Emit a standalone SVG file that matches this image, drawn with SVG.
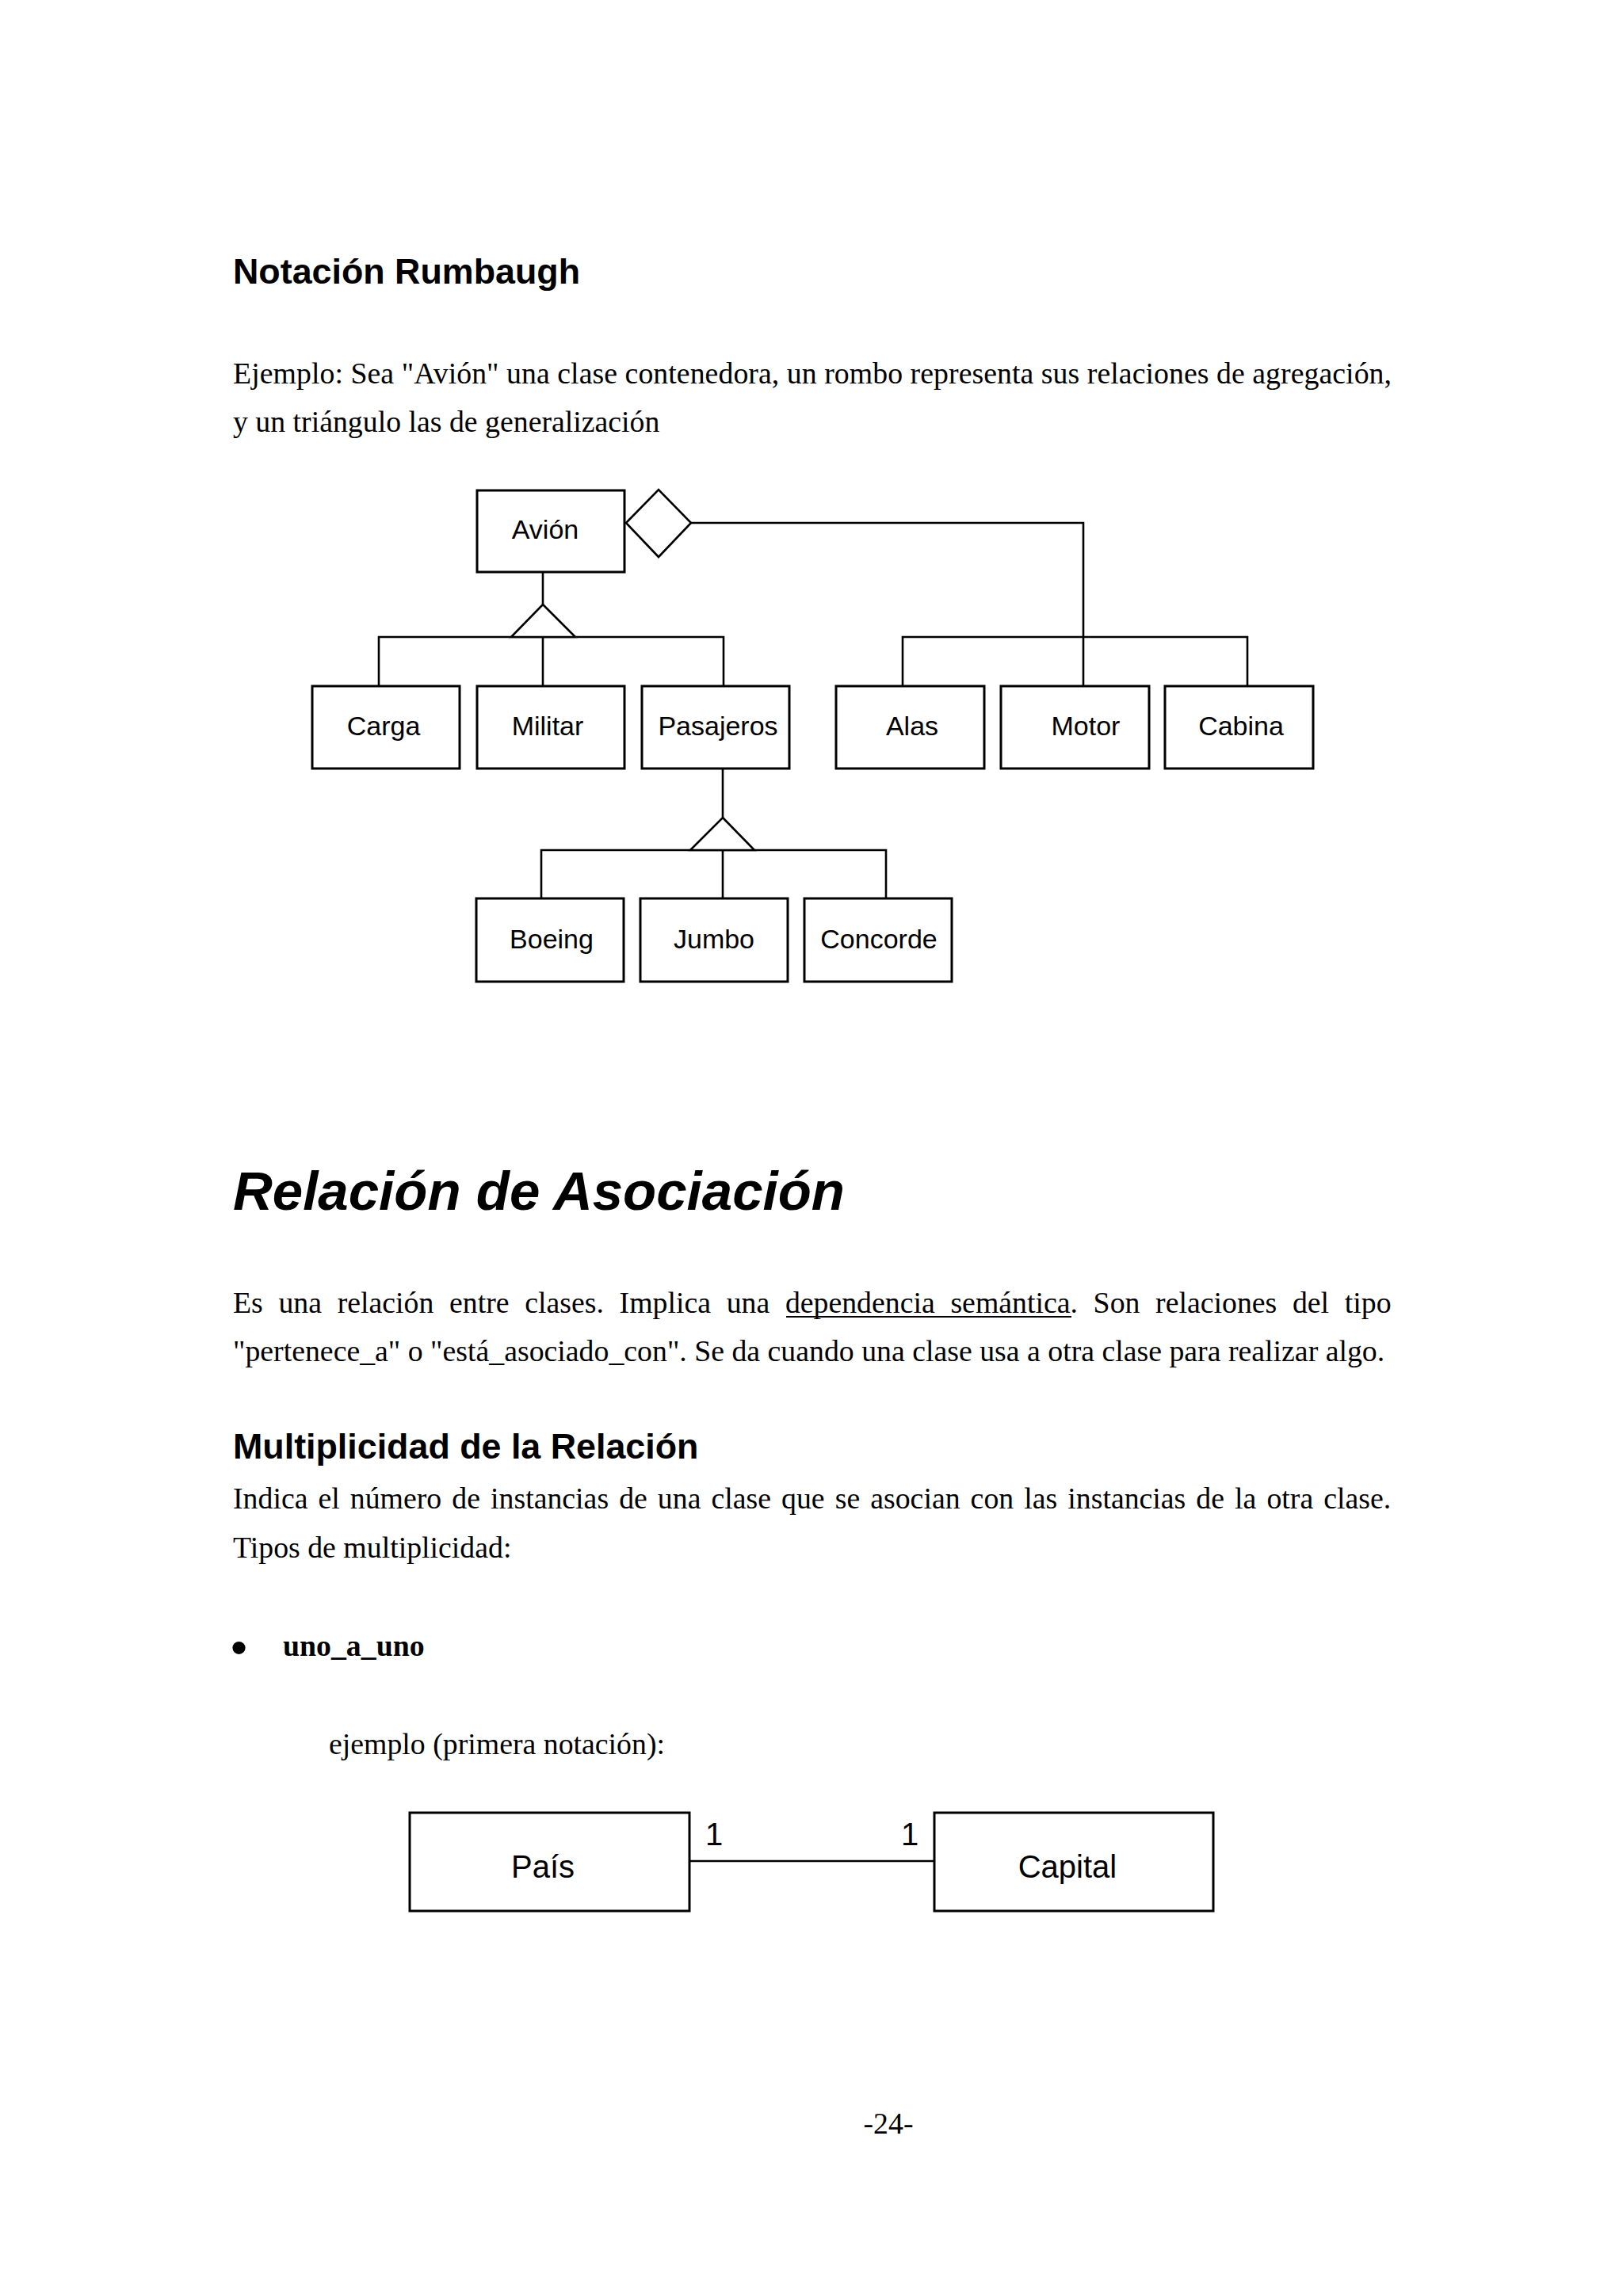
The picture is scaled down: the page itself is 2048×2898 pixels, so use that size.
<svg xmlns="http://www.w3.org/2000/svg" width="2048" height="2898" viewBox="0 0 2048 2898">
<style>
.bg{fill:#fff}
.box{fill:#fff;stroke:#000;stroke-width:3}
.ln{fill:none;stroke:#000;stroke-width:2.6}
.sym{fill:#fff;stroke:#000;stroke-width:2.6;stroke-linejoin:miter}
.lbl{font-family:"Liberation Sans",Arial,sans-serif;font-size:34px;fill:#000;text-anchor:middle}
.lbl2{font-family:"Liberation Sans",Arial,sans-serif;font-size:40px;fill:#000}
.h2{font-family:"Liberation Sans",Arial,sans-serif;font-size:44.8px;font-weight:bold;fill:#000}
.h1{font-family:"Liberation Sans",Arial,sans-serif;font-size:69px;font-weight:bold;font-style:italic;fill:#000}
.body{font-family:"Liberation Serif","Times New Roman",serif;font-size:37.8px;fill:#000}
</style>
<rect class="bg" x="0" y="0" width="2048" height="2898"/>

<text class="h2" x="294" y="358">Notación Rumbaugh</text>
<text class="body" x="294" y="484" textLength="1462" lengthAdjust="spacing">Ejemplo: Sea "Avión" una clase contenedora, un rombo representa sus relaciones de agregación,</text>
<text class="body" x="294" y="545">y un triángulo las de generalización</text>

<g id="connectors">
  <path class="ln" d="M685,722 V763"/>
  <path class="ln" d="M478,866 V804 H913 V866 M685,804 V866"/>
  <path class="ln" d="M872,660 H1367 V866"/>
  <path class="ln" d="M1139,866 V804 H1574 V866"/>
  <path class="ln" d="M912,970 V1032"/>
  <path class="ln" d="M683,1134 V1073 H1118 V1134 M912,1073 V1134"/>
  <polygon class="sym" points="685,763 726,804 645,804"/>
  <polygon class="sym" points="912,1032 952,1073 871,1073"/>
  <polygon class="sym" points="790,660 831,618 872,660 831,703"/>
  <path class="ln" d="M870,2349 H1179"/>
  <text class="lbl2" x="890" y="2329">1</text>
  <text class="lbl2" x="1137" y="2329">1</text>
</g>

<g id="avion"><rect class="box" x="602" y="619" width="186" height="103"/><text class="lbl" x="688" y="680">Avión</text></g>
<g id="carga"><rect class="box" x="394" y="866" width="186" height="104"/><text class="lbl" x="484" y="928">Carga</text></g>
<g id="militar"><rect class="box" x="602" y="866" width="186" height="104"/><text class="lbl" x="691" y="928">Militar</text></g>
<g id="pasajeros"><rect class="box" x="810" y="866" width="186" height="104"/><text class="lbl" x="906" y="928">Pasajeros</text></g>
<g id="alas"><rect class="box" x="1055" y="866" width="187" height="104"/><text class="lbl" x="1151" y="928">Alas</text></g>
<g id="motor"><rect class="box" x="1263" y="866" width="187" height="104"/><text class="lbl" x="1370" y="928">Motor</text></g>
<g id="cabina"><rect class="box" x="1470" y="866" width="187" height="104"/><text class="lbl" x="1566" y="928">Cabina</text></g>
<g id="boeing"><rect class="box" x="601" y="1134" width="186" height="105"/><text class="lbl" x="696" y="1197">Boeing</text></g>
<g id="jumbo"><rect class="box" x="808" y="1134" width="186" height="105"/><text class="lbl" x="901" y="1197">Jumbo</text></g>
<g id="concorde"><rect class="box" x="1015" y="1134" width="186" height="105"/><text class="lbl" x="1109" y="1197">Concorde</text></g>

<text class="h1" x="294" y="1527">Relación de Asociación</text>

<text class="body" x="294" y="1657" word-spacing="10.2">Es una relación entre clases. Implica una dependencia semántica. Son relaciones del tipo</text>
<path class="ln" d="M992,1662 H1352" style="stroke-width:2"/>
<text class="body" x="294" y="1718">"pertenece_a" o "está_asociado_con". Se da cuando una clase usa a otra clase para realizar algo.</text>

<text class="h2" x="294" y="1841">Multiplicidad de la Relación</text>
<text class="body" x="294" y="1904" word-spacing="3.6">Indica el número de instancias de una clase que se asocian con las instancias de la otra clase.</text>
<text class="body" x="294" y="1966">Tipos de multiplicidad:</text>

<text x="291" y="2100" font-family="Liberation Sans, Arial, sans-serif" font-size="60">•</text>
<text class="body" x="357" y="2090" font-weight="bold">uno_a_uno</text>
<text class="body" x="415" y="2214">ejemplo (primera notación):</text>

<g id="pais"><rect class="box" x="517" y="2288" width="353" height="124"/><text class="lbl2" x="685" y="2370" text-anchor="middle">País</text></g>
<g id="capital"><rect class="box" x="1179" y="2288" width="352" height="124"/><text class="lbl2" x="1347" y="2370" text-anchor="middle">Capital</text></g>

<text class="body" x="1121" y="2693" text-anchor="middle" font-size="35">-24-</text>
</svg>
